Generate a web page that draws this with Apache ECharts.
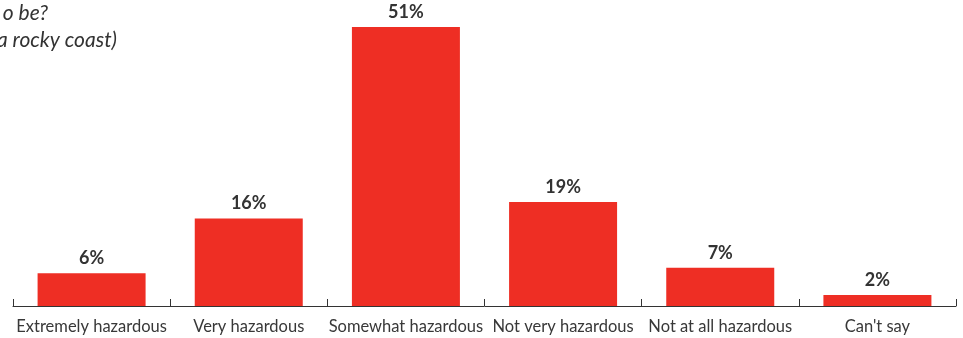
<!DOCTYPE html>
<html>
<head>
<meta charset="utf-8">
<script src="https://cdn.jsdelivr.net/npm/echarts@6/dist/echarts.min.js"></script>
<style>
  html, body { margin: 0; padding: 0; background: #fff; }
  #chart { width: 963px; height: 338px; }
</style>
</head>
<body>
<div id="chart"></div>
<script>
// Survey answers: how hazardous respondents consider it to be
const categories = ['Extremely hazardous', 'Very hazardous', 'Somewhat hazardous', 'Not very hazardous', 'Not at all hazardous', "Can't say"];
const shares = [6, 16, 51, 19, 7, 2];
const titleLines = ['o be?', 'a rocky coast)'];

const chart = echarts.init(document.getElementById('chart'));
const font = 'Lato, "Open Sans", sans-serif';

chart.setOption({
  animation: false,
  grid: { left: 13, right: 7, top: 27, bottom: 32 },
  graphic: [
    { type: 'text', right: 915, top: 3, style: { text: titleLines[0], font: 'italic 21px ' + font, fill: '#333' } },
    { type: 'text', right: 846, top: 30, style: { text: titleLines[1], font: 'italic 21px ' + font, fill: '#333' } }
  ],
  xAxis: {
    type: 'category',
    data: categories,
    axisLine: { show: true, lineStyle: { color: '#333', width: 1 } },
    axisTick: { show: true, inside: true, length: 7, lineStyle: { color: '#333', width: 1 } },
    axisLabel: { color: '#383838', fontSize: 16.5, fontFamily: font, margin: 12, interval: 0 }
  },
  yAxis: {
    type: 'value', min: 0, max: 51, show: false, splitLine: { show: false }
  },
  series: [{
    type: 'bar',
    data: shares,
    barWidth: 108,
    itemStyle: { color: '#EE2E24' },
    label: {
      show: true, position: 'top', distance: 6,
      formatter: '{c}%', color: '#333', fontSize: 18, fontWeight: 'bold', fontFamily: font
    }
  }]
});
</script>
</body>
</html>
